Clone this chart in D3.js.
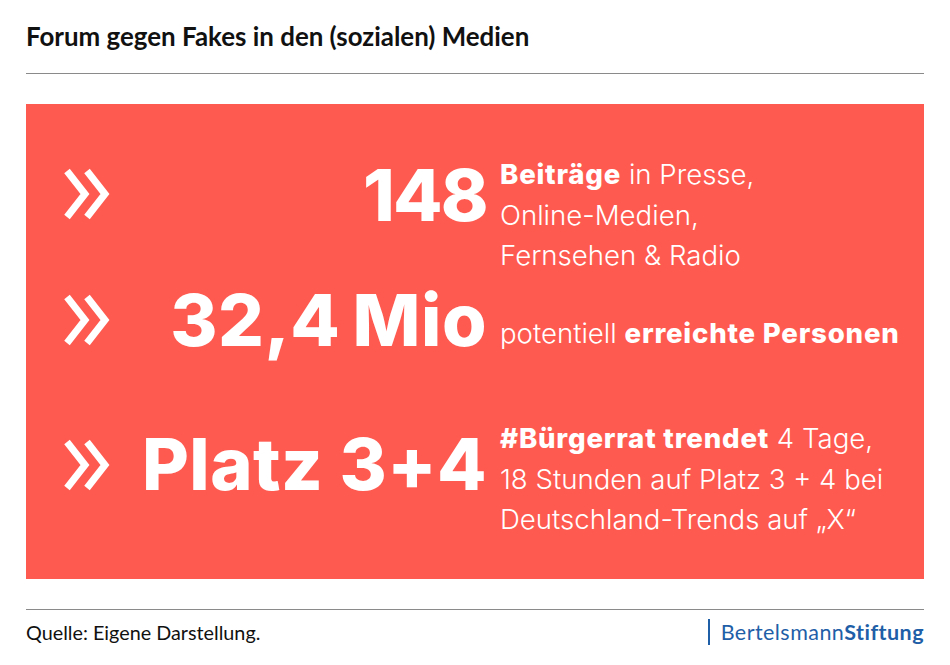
<!DOCTYPE html>
<html>
<head>
<meta charset="utf-8">
<script src="https://cdnjs.cloudflare.com/ajax/libs/d3/7.8.5/d3.min.js"></script>
<style>
  html, body { margin: 0; padding: 0; background: #fff; }
  svg { display: block; }
</style>
</head>
<body>
<svg width="950" height="665"></svg>
<script>
// The texts of the chart
var title = "Forum gegen Fakes in den (sozialen) Medien";
var source = "Quelle: Eigene Darstellung.";
var bigLabels = ["148", "32,4 Mio", "Platz 3+4"];
var bigBaselines = [221, 346, 490];
var bigTracking = [-1.7, 0.5, 0.45];
var bigWordSpacing = [0, -4, 0];
var arrowCenters = [194, 320, 465];
// every line is a list of [text, bold] pieces
var bodyLines = [
  [["Beiträge", true], [" in Presse,", false]],
  [["Online-Medien,", false]],
  [["Fernsehen & Radio", false]],
  [["potentiell ", false], ["erreichte Personen", true]],
  [["#Bürgerrat trendet", true], [" 4 Tage,", false]],
  [["18 Stunden auf Platz 3 + 4 bei", false]],
  [["Deutschland-Trends auf „X“", false]]
];
var bodyBaselines = [184, 225, 265, 343, 448, 489, 529];

var svg = d3.select("svg");
var red = "#ff5a50";

// Title and rules
svg.append("text")
  .attr("x", 26).attr("y", 46)
  .style("font", "bold 25.9px Lato")
  .style("fill", "#111")
  .text(title);

svg.selectAll(".rule")
  .data([73, 609])
  .enter()
  .append("line")
    .attr("x1", 26).attr("x2", 924)
    .attr("y1", function(d){ return d + 0.5 })
    .attr("y2", function(d){ return d + 0.5 })
    .style("stroke", "#8a8a8a")
    .style("stroke-width", 1);

// Red panel
svg.append("rect")
  .attr("x", 26).attr("y", 104)
  .attr("width", 898).attr("height", 475)
  .style("fill", red);

// Double arrows
var chevron = d3.line()([[-45, -23], [-27, 0], [-45, 23]]);
svg.selectAll(".arrow")
  .data(arrowCenters)
  .enter()
  .append("g")
    .attr("transform", function(d){ return "translate(112," + d + ")" })
  .selectAll("path")
  .data([0, 20])
  .enter()
  .append("path")
    .attr("d", chevron)
    .attr("transform", function(d){ return "translate(" + d + ",0)" })
    .style("fill", "none")
    .style("stroke", "#fff")
    .style("stroke-width", 7);

// Big numbers
svg.selectAll(".big")
  .data(bigLabels)
  .enter()
  .append("text")
    .attr("x", 487)
    .attr("y", function(d, i){ return bigBaselines[i] })
    .attr("text-anchor", "end")
    .style("font", "800 72px Inter")
    .style("letter-spacing", function(d, i){ return bigTracking[i] + "px" })
    .style("word-spacing", function(d, i){ return bigWordSpacing[i] + "px" })
    .style("fill", "#fff")
    .text(function(d){ return d });

// Body text
var lines = svg.selectAll(".body")
  .data(bodyLines)
  .enter()
  .append("text")
    .attr("x", 500)
    .attr("y", function(d, i){ return bodyBaselines[i] })
    .attr("xml:space", "preserve")
    .style("font-family", "Inter")
    .style("font-size", "27.6px")
    .style("fill", "#fff");

lines.selectAll("tspan")
  .data(function(d){ return d })
  .enter()
  .append("tspan")
    .style("font-weight", function(d){ return d[1] ? 800 : 300 })
    .style("letter-spacing", function(d){ return d[1] ? "0.8px" : "0px" })
    .text(function(d){ return d[0] });

// Footer
svg.append("text")
  .attr("x", 26).attr("y", 640)
  .style("font", "19.8px Lato")
  .style("fill", "#111")
  .text(source);

svg.append("line")
  .attr("x1", 709).attr("x2", 709)
  .attr("y1", 619).attr("y2", 645)
  .style("stroke", "#1f5fa8")
  .style("stroke-width", 2);

var logo = svg.append("text")
  .attr("x", 924).attr("y", 640)
  .attr("text-anchor", "end")
  .style("font", "21.5px Lato")
  .style("letter-spacing", "0.45px")
  .style("fill", "#1f5fa8");
logo.append("tspan").text("Bertelsmann");
logo.append("tspan").style("font-weight", 700).text("Stiftung");
</script>
</body>
</html>
